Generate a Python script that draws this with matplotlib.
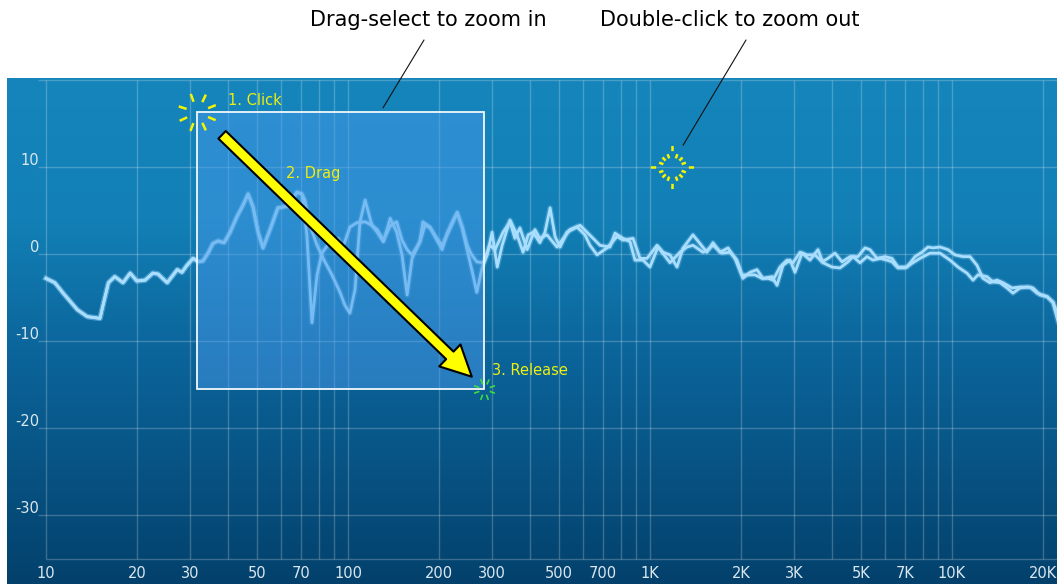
import numpy as np
import matplotlib
matplotlib.use("Agg")
import matplotlib.pyplot as plt
from matplotlib.colors import LinearSegmentedColormap
from matplotlib.patches import Rectangle, FancyArrowPatch, ArrowStyle
from matplotlib.path import Path

# below ~70 Hz both channels lie on top of each other
shared_hz = [10.0, 10.7, 11.4, 12.7, 13.7, 15.1, 15.4, 16.1, 16.9, 18.0, 19.0, 20.0, 21.3,
             22.6, 23.5, 25.2, 27.2, 28.2, 29.3, 30.7, 31.9, 33.1, 34.4, 35.7, 37.1, 38.9,
             40.7, 42.9, 44.9, 46.7, 48.5, 50.4, 52.3, 55.2, 58.6, 63.3, 67.8, 70.4]
shared_db = [-2.8, -3.3, -4.5, -6.4, -7.2, -7.4, -6.1, -3.3, -2.6, -3.3, -2.2, -3.1, -3.0,
             -2.2, -2.3, -3.3, -1.8, -2.1, -1.3, -0.5, -0.9, -0.8, 0.1, 1.2, 1.5, 1.3,
             2.5, 4.3, 5.6, 6.9, 5.4, 2.5, 0.7, 2.8, 5.3, 5.5, 7.1, 6.9]

left_hz = [73.1, 76.0, 79.0, 82.0, 87.2, 92.7, 96.3, 101.5, 107, 114,
           120, 125, 131, 138, 145, 151, 157, 163, 173, 180,
           187, 197, 205, 213, 223, 230, 239, 248, 257, 267,
           278, 289, 300, 312, 324, 344, 363, 380, 395, 410,
           432, 449, 467, 485, 504, 531, 573, 609, 633, 668,
           721, 778, 814, 879, 927, 978, 1055, 1104, 1165, 1229,
           1287, 1388, 1464, 1544, 1617, 1705, 1813, 1912, 2032, 2144,
           2261, 2367, 2535, 2634, 2757, 2908, 3021, 3187, 3387, 3600,
           3739, 4006, 4257, 4525, 4701, 4959, 5230, 5475, 5776, 6092,
           6329, 6627, 6990, 7429, 7834, 8456, 9127, 9849, 10470, 11210,
           11740, 12190, 13060, 13670, 14420, 15210, 15920, 16800, 17720, 18550,
           19560, 20640, 21600, 22600]
left_db = [2.2, -7.9, -2.4, 0.1, 1.4, 1.8, 0.8, 3.1, 3.6, 3.7,
           3.3, 2.8, 1.6, 3.2, 3.7, 1.6, 0.5, -0.1, 1.4, 3.3,
           3.0, 1.8, 1.0, 2.2, 3.7, 4.7, 3.0, 0.5, -1.8, -4.4,
           -1.6, -0.1, 2.5, -1.5, 1.0, 3.9, 2.2, 0.2, 2.2, 2.5,
           1.3, 2.5, 5.3, 2.0, 0.8, 2.5, 3.1, 2.2, 1.0, -0.1,
           0.7, 2.0, 1.6, 1.8, -0.5, -0.5, 1.0, 0.2, -0.1, -1.5,
           0.7, 2.2, 1.2, 0.2, 1.3, 0.2, 0.7, -0.5, -2.8, -2.1,
           -1.8, -2.8, -2.6, -3.6, -1.3, -0.7, -2.1, 0.1, -0.7, 0.5,
           -1.0, -1.5, -1.6, -0.9, -0.3, -1.0, -0.3, -0.7, -0.5, -0.7,
           -0.9, -1.6, -1.6, -1.0, -0.5, 0.1, 0.1, -0.7, -1.5, -2.2,
           -3.0, -2.4, -2.6, -3.2, -3.3, -3.9, -4.5, -3.9, -3.8, -3.9,
           -4.7, -4.9, -5.6, -8.2]

right_hz = [72.0, 74.8, 79.0, 83.9, 88.5, 94.1, 97.7, 101.5, 105.5, 109.6,
            114, 120, 125, 131, 138, 145, 151, 157, 163, 173,
            177, 187, 197, 205, 213, 223, 230, 239, 248, 257,
            267, 280, 295, 307, 326, 344, 357, 371, 392, 416,
            432, 456, 492, 543, 587, 619, 648, 683, 737, 766,
            814, 859, 892, 948, 1000, 1063, 1165, 1257, 1326, 1388,
            1498, 1556, 1617, 1731, 1841, 1941, 2017, 2111, 2227, 2349,
            2459, 2554, 2695, 2842, 2975, 3139, 3311, 3518, 3711, 3886,
            4098, 4324, 4595, 4884, 5151, 5351, 5646, 5999, 6329, 6627,
            7096, 7543, 7955, 8327, 8652, 9127, 9700, 10230, 10870, 11470,
            12100, 12660, 13360, 14090, 14760, 15800, 16800, 18130, 19120, 20640,
            21600, 22600]
right_db = [6.2, 3.3, 1.0, -0.9, -2.4, -4.4, -5.9, -6.8, -4.1, 3.7,
            6.2, 3.3, 2.5, 1.4, 4.1, 2.5, -0.1, -4.7, -0.5, 1.4,
            3.7, 3.1, 1.6, 0.5, 2.4, 3.9, 4.8, 3.1, 1.0, -0.1,
            -0.9, -1.0, 1.0, 0.5, 2.5, 3.7, 1.8, 3.0, 0.5, 2.8,
            1.8, 2.2, 0.8, 2.8, 3.3, 2.5, 1.8, 1.0, 0.8, 2.4,
            1.8, 1.4, -0.7, -0.7, -1.5, 0.8, -1.0, 0.2, 0.8, 1.0,
            0.2, 0.5, 1.0, 0.1, 0.2, -0.7, -2.4, -2.4, -2.4, -2.8,
            -2.8, -3.0, -1.5, -0.7, -1.0, 0.2, -0.1, -0.1, -0.9, -0.5,
            0.1, -0.9, -0.3, -0.3, 0.7, 0.5, -0.5, -0.3, -0.5, -1.5,
            -1.5, -0.3, 0.2, 0.8, 0.7, 0.8, 0.5, -0.1, -0.3, -0.3,
            -1.3, -2.8, -3.3, -3.0, -3.3, -3.9, -3.8, -3.8, -4.5, -4.9,
            -5.5, -7.2]

x_ticks = [10, 20, 30, 50, 70, 100, 200, 300, 500, 700, 1000, 2000, 3000, 5000, 7000, 10000, 20000]
x_tick_labels = ["10", "20", "30", "50", "70", "100", "200", "300", "500", "700",
                 "1K", "2K", "3K", "5K", "7K", "10K", "20K"]
y_ticks = [10, 0, -10, -20, -30]

# the drag-select rectangle (Hz, dB) and the gesture marks
select_hz = (31.6, 282)
select_db = (-15.5, 16.3)
drag_from = (38.3, 13.7)
drag_to = (257, -14.1)
dblclick_at = (1183, 10.0)

W, H = 1057, 584
fig = plt.figure(figsize=(W / 100, H / 100), dpi=100, facecolor="white")
ax = fig.add_axes([7 / W, 0, 1050 / W, 506 / H])
ax.set_xscale("log")
ax.set_axis_off()
XLIM = (7.43, 22270)
YLIM = (-37.93, 20.23)

# background gradient
bg = LinearSegmentedColormap.from_list(
    "panel", [(0, "#03416c"), (0.45, "#0b649a"), (0.72, "#1280b6"), (1, "#1585bb")])
grad = np.linspace(0, 1, 256).reshape(-1, 1)
ax.imshow(grad, cmap=bg, origin="lower", aspect="auto", extent=[0, 1, 0, 1],
          transform=ax.transAxes, zorder=0, interpolation="bicubic")

# grid
grid_kw = dict(color="white", alpha=0.22, lw=1.0, zorder=1)
decades = [10, 100, 1000, 10000]
vlines = [d * k for d in decades for k in range(1, 10) if d * k <= 20000]
ax.vlines(vlines, -35, 20, **grid_kw)
ax.hlines([20, 10, 0, -10, -20, -30], 9.4, XLIM[1], **grid_kw)
ax.hlines([-35], 10, XLIM[1], **grid_kw)

# response curves
for hz, db in [(shared_hz + left_hz, shared_db + left_db),
               (shared_hz + right_hz, shared_db + right_db)]:
    ax.plot(hz, db, color="#9ed8ff", lw=4.0, alpha=0.25, zorder=2, solid_joinstyle="round")
    ax.plot(hz, db, color="#a9deff", lw=2.0, zorder=3, solid_joinstyle="round")

# tick labels
for f, lab in zip(x_ticks, x_tick_labels):
    ax.text(f, -36.7, lab, color="#dbe7ee", fontsize=10.5, ha="center", va="center", zorder=6)
for v in y_ticks:
    ax.text(9.48, v + 0.7, str(v), color="#dbe7ee", fontsize=10.5, ha="right", va="center", zorder=6)

# selection box
ax.add_patch(Rectangle((select_hz[0], select_db[0]), select_hz[1] - select_hz[0],
                       select_db[1] - select_db[0], facecolor="#469ae9", alpha=0.5,
                       edgecolor="none", zorder=4))
ax.add_patch(Rectangle((select_hz[0], select_db[0]), select_hz[1] - select_hz[0],
                       select_db[1] - select_db[0], facecolor="none",
                       edgecolor="#f2f8fc", lw=1.3, zorder=4.5))

# drag arrow
ax.add_patch(FancyArrowPatch(drag_from, drag_to,
                             arrowstyle=ArrowStyle("simple", head_length=1.1, head_width=1.1,
                                                   tail_width=0.38),
                             mutation_scale=20, fc="#ffff00", ec="black", lw=1.5,
                             shrinkA=0, shrinkB=0, zorder=5))


def burst(rings):
    verts, codes = [], []
    for angles, r0, r1 in rings:
        for a in np.radians(angles):
            c, s = np.cos(a), np.sin(a)
            verts += [(r0 * c, r0 * s), (r1 * c, r1 * s)]
            codes += [Path.MOVETO, Path.LINETO]
    return Path(verts, codes)


click_mark = burst([([22, 65, 110, 162, 205, 249, 295, 337], 0.55, 0.95)])
release_mark = burst([([20, 65, 110, 160, 200, 250, 290, 340], 0.5, 1.0)])
dbl_mark = burst([([20, 45, 70, 110, 135, 160, 200, 225, 250, 290, 315, 340], 0.45, 0.66),
                  ([0, 90, 180, 270], 0.76, 1.0)])

ax.plot(select_hz[0], select_db[1], marker=click_mark, ms=27, mec="#f5f500", mew=1.8,
        ls="none", zorder=6)
ax.plot(select_hz[1], select_db[0], marker=release_mark, ms=15, mec="#3fdc3f", mew=1.2,
        ls="none", zorder=6)
ax.plot(*dblclick_at, marker=dbl_mark, ms=31, mec="#f5f500", mew=1.8, ls="none", zorder=6)

txt_kw = dict(color="#eeee10", fontsize=10.5, va="center", ha="left", zorder=6)
ax.text(40.0, 17.6, "1. Click", **txt_kw)
ax.text(62.3, 9.3, "2. Drag", **txt_kw)
ax.text(300, -13.4, "3. Release", **txt_kw)

# callouts above the panel
fig.text(428 / W, 1 - 20 / H, "Drag-select to zoom in", fontsize=15, ha="center", va="center")
fig.text(730 / W, 1 - 20 / H, "Double-click to zoom out", fontsize=15, ha="center", va="center")
line_kw = dict(arrowstyle="-", color="#111111", lw=0.8, shrinkA=0, shrinkB=0)
ax.annotate("", xy=(130.6, 16.8), xycoords="data", xytext=(424, H - 40),
            textcoords="figure pixels", arrowprops=line_kw, annotation_clip=False)
ax.annotate("", xy=(1287, 12.5), xycoords="data", xytext=(746, H - 40),
            textcoords="figure pixels", arrowprops=line_kw, annotation_clip=False)

ax.set_xlim(*XLIM)
ax.set_ylim(*YLIM)
fig.savefig("out.png", dpi=100, facecolor="white")
